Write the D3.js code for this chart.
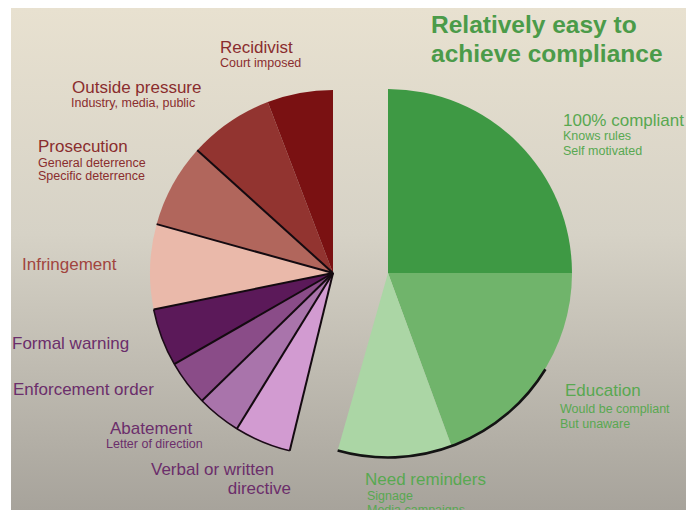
<!DOCTYPE html>
<html>
<head>
<meta charset="utf-8">
<script src="https://cdn.jsdelivr.net/npm/d3@7"></script>
<style>
  html, body { margin: 0; padding: 0; background: #fff; }
  svg { display: block; font-family: "Liberation Sans", Arial, sans-serif; }
</style>
</head>
<body>
<div id="chart"></div>
<script>
// shares of the whole circle (%)
const easyNames = ['100% compliant', 'Education', 'Need reminders'];
const easyValues = [25, 19.4, 10.0];
const easyColors = ['#3e9944', '#70b46b', '#abd6a5'];

// hard side, listed from the top going round anticlockwise
const hardNames = ['Recidivist', 'Outside pressure', 'Prosecution', 'Infringement',
  'Formal warning', 'Enforcement order', 'Abatement', 'Verbal or written directive'];
const hardValues = [5.8, 7.5, 7.4, 7.5, 5.1, 4.0, 3.9, 5.0];
const hardColors = ['#7a1112', '#923430', '#b1665c', '#eab9aa',
  '#5b1959', '#8a4c88', '#a974ab', '#d29bd1'];

const width = 686, height = 510;
const svg = d3.select('#chart').append('svg')
  .attr('width', width).attr('height', height)
  .attr('viewBox', [0, 0, width, height]);

const grad = svg.append('defs').append('linearGradient')
  .attr('id', 'bg').attr('x1', 0).attr('y1', 0).attr('x2', 0).attr('y2', 1);
grad.append('stop').attr('offset', '0%').attr('stop-color', '#e8e1d0');
grad.append('stop').attr('offset', '45%').attr('stop-color', '#d6d2c6');
grad.append('stop').attr('offset', '100%').attr('stop-color', '#a7a39b');

svg.append('rect').attr('x', 11).attr('y', 8)
  .attr('width', width - 11).attr('height', height - 8).attr('fill', 'url(#bg)');

const tau = 2 * Math.PI;
const share = d3.scaleLinear().domain([0, 100]).range([0, tau]);

// right half: green, clockwise from the top
const R1 = 184;
const easyPie = d3.pie().sort(null).startAngle(0).endAngle(share(d3.sum(easyValues)));
const easyArcs = easyPie(easyValues);
const arc1 = d3.arc().innerRadius(0).outerRadius(R1);
const gEasy = svg.append('g').attr('transform', 'translate(388,273)');
gEasy.selectAll('path.slice').data(easyArcs).join('path')
  .attr('class', 'slice').attr('d', arc1).attr('fill', (d, i) => easyColors[i]);
// dark rim under the lower green slices
const rimStart = easyArcs[1].startAngle + (easyArcs[1].endAngle - easyArcs[1].startAngle) * 0.45;
gEasy.append('path')
  .attr('d', d3.arc().innerRadius(R1 + 0.5).outerRadius(R1 + 0.5)
    .startAngle(rimStart).endAngle(easyArcs[2].endAngle)())
  .attr('fill', 'none').attr('stroke', '#141414').attr('stroke-width', 2.6);

// left half: red and purple, ends at the top
const R2 = 183;
const hardRev = hardValues.slice().reverse();
const hardColRev = hardColors.slice().reverse();
const hardPie = d3.pie().sort(null).startAngle(tau - share(d3.sum(hardValues))).endAngle(tau);
const hardArcs = hardPie(hardRev);
const arc2 = d3.arc().innerRadius(0).outerRadius(R2);
const gHard = svg.append('g').attr('transform', 'translate(333,273)');
gHard.selectAll('path.slice').data(hardArcs).join('path')
  .attr('class', 'slice').attr('d', arc2).attr('fill', (d, i) => hardColRev[i]);

// dark outer edge on the purple slices
gHard.selectAll('path.rim').data(hardArcs.slice(0, 4)).join('path')
  .attr('class', 'rim')
  .attr('d', d => d3.arc().innerRadius(R2).outerRadius(R2)(d))
  .attr('fill', 'none').attr('stroke', '#1c0b18').attr('stroke-width', 1.6);

// black dividers, none between the two darkest reds
const dividers = hardArcs.slice(0, hardArcs.length - 1).map(d => d.startAngle);
gHard.selectAll('line.div').data(dividers).join('line')
  .attr('class', 'div')
  .attr('x1', 0).attr('y1', 0)
  .attr('x2', a => Math.sin(a) * R2).attr('y2', a => -Math.cos(a) * R2)
  .attr('stroke', '#140a10').attr('stroke-width', 2);

// labels
const green = '#58a851', red = '#8a2d2e', pink = '#a1453f', purple = '#6b2e6b';
const big = 17, small = 12.5;
const labels = [
  { t: 'Relatively easy to', x: 431, y: 33, s: 24.5, w: 'bold', c: '#4b9b49' },
  { t: 'achieve compliance', x: 431, y: 62, s: 24.5, w: 'bold', c: '#4b9b49' },
  { t: '100% compliant', x: 563, y: 126, s: big, c: green },
  { t: 'Knows rules', x: 563, y: 140, s: small, c: green },
  { t: 'Self motivated', x: 563, y: 155, s: small, c: green },
  { t: 'Education', x: 565, y: 396, s: big, c: green },
  { t: 'Would be compliant', x: 560, y: 413, s: small, c: green },
  { t: 'But  unaware', x: 560, y: 428, s: small, c: green },
  { t: 'Need reminders', x: 365, y: 485, s: big, c: green },
  { t: 'Signage', x: 367, y: 500, s: small, c: green },
  { t: 'Media campaigns', x: 367, y: 514, s: small, c: green },
  { t: 'Recidivist', x: 220, y: 53, s: big, c: red },
  { t: 'Court imposed', x: 220, y: 67, s: small, c: red },
  { t: 'Outside pressure', x: 72, y: 93, s: big, c: red },
  { t: 'Industry, media, public', x: 71, y: 107, s: small, c: red },
  { t: 'Prosecution', x: 38, y: 152, s: big, c: red },
  { t: 'General deterrence', x: 38, y: 167, s: small, c: red },
  { t: 'Specific deterrence', x: 38, y: 180, s: small, c: red },
  { t: 'Infringement', x: 22, y: 270, s: big, c: pink },
  { t: 'Formal warning', x: 12, y: 349, s: big, c: purple },
  { t: 'Enforcement order', x: 13, y: 395, s: big, c: purple },
  { t: 'Abatement', x: 110, y: 434, s: big, c: purple },
  { t: 'Letter of direction', x: 106, y: 448, s: small, c: purple },
  { t: 'Verbal or written', x: 151, y: 475, s: big, c: purple },
  { t: 'directive', x: 291, y: 494, s: big, c: purple, a: 'end' }
];
svg.selectAll('text.lbl').data(labels).join('text')
  .attr('class', 'lbl')
  .attr('x', d => d.x).attr('y', d => d.y)
  .attr('font-size', d => d.s)
  .attr('font-weight', d => d.w || 'normal')
  .attr('text-anchor', d => d.a || 'start')
  .attr('fill', d => d.c)
  .text(d => d.t);
</script>
</body>
</html>
